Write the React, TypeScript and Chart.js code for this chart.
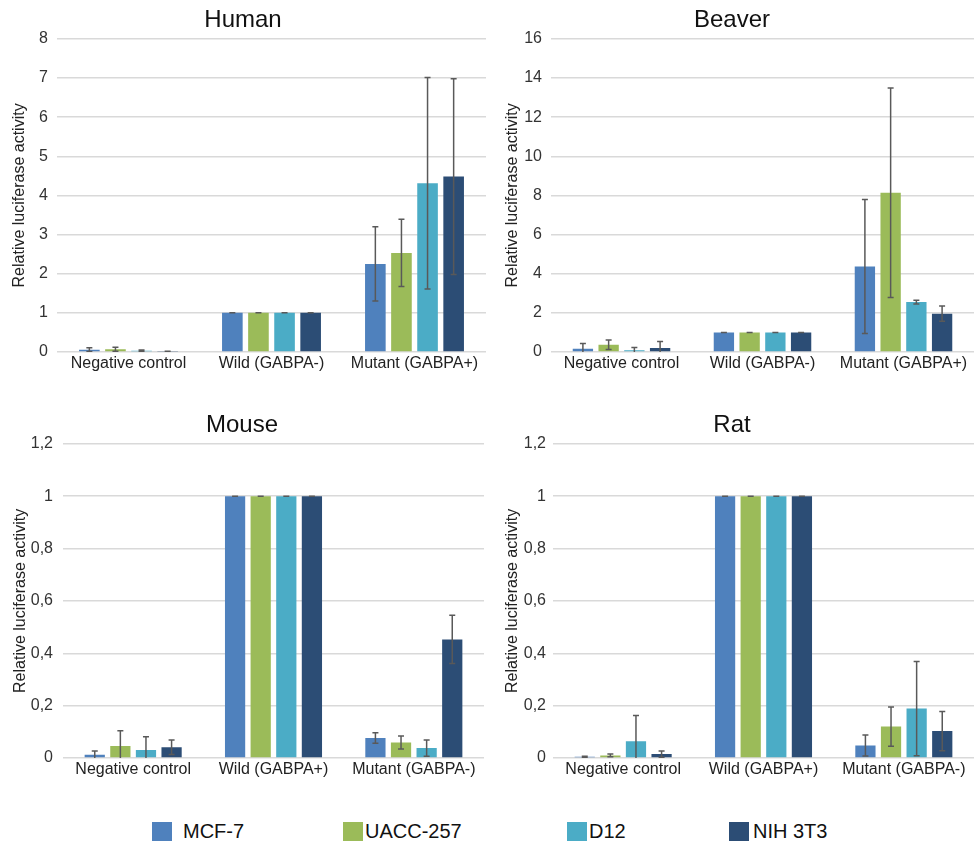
import React, { useEffect, useRef } from "react";
import { Chart, registerables } from "chart.js";
Chart.register(...registerables);

const FONT = "'Liberation Sans', Arial, Helvetica, sans-serif";

const seriesNames = ["MCF-7", "UACC-257", "D12", "NIH 3T3"];
const seriesColors = ["#4F81BD", "#9BBB59", "#4BACC6", "#2C4D75"];

const catsHumanBeaver = ["Negative control", "Wild (GABPA-)", "Mutant (GABPA+)"];
const catsMouseRat = ["Negative control", "Wild (GABPA+)", "Mutant (GABPA-)"];
const yAxisTitle = "Relative luciferase activity";

// Human
const humanMCF7 = [0.06, 1, 2.25];
const humanMCF7Err = [0.05, 0, 0.95];
const humanUACC = [0.07, 1, 2.53];
const humanUACCErr = [0.05, 0, 0.86];
const humanD12 = [0.03, 1, 4.31];
const humanD12Err = [0.02, 0, 2.7];
const humanNIH = [0.01, 1, 4.48];
const humanNIHErr = [0.01, 0, 2.5];
const humanYMax = 8;
const humanYStep = 1;

// Beaver
const beaverMCF7 = [0.17, 1, 4.37];
const beaverMCF7Err = [0.27, 0, 3.42];
const beaverUACC = [0.37, 1, 8.14];
const beaverUACCErr = [0.24, 0, 5.35];
const beaverD12 = [0.085, 1, 2.55];
const beaverD12Err = [0.15, 0, 0.1];
const beaverNIH = [0.2, 1, 1.96];
const beaverNIHErr = [0.34, 0, 0.39];
const beaverYMax = 16;
const beaverYStep = 2;

// Mouse
const mouseMCF7 = [0.012, 1, 0.076];
const mouseMCF7Err = [0.015, 0, 0.02];
const mouseUACC = [0.046, 1, 0.059];
const mouseUACCErr = [0.058, 0, 0.025];
const mouseD12 = [0.031, 1, 0.038];
const mouseD12Err = [0.05, 0, 0.031];
const mouseNIH = [0.041, 1, 0.453];
const mouseNIHErr = [0.028, 0, 0.092];
const mouseYMax = 1.2;
const mouseYStep = 0.2;

// Rat
const ratMCF7 = [0.005, 1, 0.048];
const ratMCF7Err = [0.002, 0, 0.04];
const ratUACC = [0.01, 1, 0.12];
const ratUACCErr = [0.005, 0, 0.075];
const ratD12 = [0.064, 1, 0.189];
const ratD12Err = [0.098, 0, 0.18];
const ratNIH = [0.015, 1, 0.103];
const ratNIHErr = [0.012, 0, 0.075];
const ratYMax = 1.2;
const ratYStep = 0.2;

const errorBarPlugin = {
  id: "errorBars",
  afterDatasetsDraw(chart: any) {
    const ctx = chart.ctx;
    const yScale = chart.scales.y;
    const area = chart.chartArea;
    ctx.save();
    ctx.beginPath();
    ctx.rect(area.left, area.top - 2, area.right - area.left, area.bottom - area.top + 2);
    ctx.clip();
    ctx.strokeStyle = "#595959";
    ctx.lineWidth = 1.5;
    chart.data.datasets.forEach((ds: any, di: number) => {
      const meta = chart.getDatasetMeta(di);
      meta.data.forEach((bar: any, i: number) => {
        const v = ds.data[i];
        const e = ds.errors[i];
        const x = bar.x;
        const yTop = yScale.getPixelForValue(v + e);
        const yBot = yScale.getPixelForValue(v - e);
        const cap = 3;
        ctx.beginPath();
        ctx.moveTo(x, yTop);
        ctx.lineTo(x, yBot);
        ctx.moveTo(x - cap, yTop);
        ctx.lineTo(x + cap, yTop);
        ctx.moveTo(x - cap, yBot);
        ctx.lineTo(x + cap, yBot);
        ctx.stroke();
      });
    });
    ctx.restore();
  },
};

type PanelProps = {
  left: number;
  top: number;
  width: number;
  height: number;
  title: string;
  categories: string[];
  values: number[][];
  errors: number[][];
  yMax: number;
  yStep: number;
  yAxisWidth: number;
  yTitlePad: number;
  tickPad: number;
  rightPad: number;
  comma: boolean;
};

function Panel(p: PanelProps) {
  const ref = useRef<HTMLCanvasElement | null>(null);
  useEffect(() => {
    if (!ref.current) return;
    const chart = new Chart(ref.current, {
      type: "bar",
      data: {
        labels: p.categories,
        datasets: p.values.map((vals, si) => ({
          label: seriesNames[si],
          data: vals,
          errors: p.errors[si],
          backgroundColor: seriesColors[si],
          borderWidth: 0,
          categoryPercentage: 0.73,
          barPercentage: 0.79,
        })) as any,
      },
      options: {
        responsive: false,
        maintainAspectRatio: false,
        animation: false,
        devicePixelRatio: 1,
        layout: { padding: { left: 0, right: p.rightPad, top: 0, bottom: 0 } },
        plugins: {
          legend: { display: false },
          tooltip: { enabled: false },
          title: {
            display: true,
            text: p.title,
            color: "#111",
            font: { family: FONT, size: 24, weight: "normal" },
            padding: { top: 6, bottom: 4 },
          },
        },
        scales: {
          x: {
            grid: { display: false, drawTicks: false },
            border: { display: false },
            ticks: {
              color: "#222",
              font: { family: FONT, size: 16 },
              padding: 2,
              maxRotation: 0,
              autoSkip: false,
            },
            afterFit: (s: any) => {
              s.height = 28;
            },
          },
          y: {
            min: 0,
            max: p.yMax,
            grid: { color: "#d9d9d9", lineWidth: 1.5, drawTicks: false },
            border: { display: false },
            ticks: {
              stepSize: p.yStep,
              padding: p.tickPad,
              color: "#333",
              font: { family: FONT, size: 16 },
              callback: (v: any) => {
                const r = Math.round(Number(v) * 10) / 10;
                const s = String(r);
                return p.comma ? s.replace(".", ",") : s;
              },
            },
            title: {
              display: true,
              text: yAxisTitle,
              color: "#222",
              font: { family: FONT, size: 16 },
              padding: { top: p.yTitlePad, bottom: 0 },
            },
            afterFit: (s: any) => {
              s.width = p.yAxisWidth;
            },
          },
        },
      } as any,
      plugins: [errorBarPlugin],
    });
    return () => chart.destroy();
  }, []);
  return (
    <canvas
      ref={ref}
      width={p.width}
      height={p.height}
      style={{ position: "absolute", left: p.left, top: p.top, width: p.width, height: p.height }}
    />
  );
}

const legendItems = [
  { box: 152, text: 183 },
  { box: 343, text: 365 },
  { box: 567, text: 589 },
  { box: 729, text: 753 },
];

export default function App() {
  return (
    <div
      style={{
        position: "absolute",
        left: 0,
        top: 0,
        width: 980,
        height: 841,
        background: "#fff",
        overflow: "hidden",
        fontFamily: FONT,
      }}
    >
      <Panel
        left={0}
        top={0}
        width={490}
        height={380}
        title="Human"
        categories={catsHumanBeaver}
        values={[humanMCF7, humanUACC, humanD12, humanNIH]}
        errors={[humanMCF7Err, humanUACCErr, humanD12Err, humanNIHErr]}
        yMax={humanYMax}
        yStep={humanYStep}
        yAxisWidth={57}
        yTitlePad={10}
        tickPad={9}
        rightPad={4}
        comma={false}
      />
      <Panel
        left={490}
        top={0}
        width={490}
        height={380}
        title="Beaver"
        categories={catsHumanBeaver}
        values={[beaverMCF7, beaverUACC, beaverD12, beaverNIH]}
        errors={[beaverMCF7Err, beaverUACCErr, beaverD12Err, beaverNIHErr]}
        yMax={beaverYMax}
        yStep={beaverYStep}
        yAxisWidth={61}
        yTitlePad={13}
        tickPad={9}
        rightPad={6}
        comma={false}
      />
      <Panel
        left={0}
        top={405}
        width={490}
        height={381}
        title="Mouse"
        categories={catsMouseRat}
        values={[mouseMCF7, mouseUACC, mouseD12, mouseNIH]}
        errors={[mouseMCF7Err, mouseUACCErr, mouseD12Err, mouseNIHErr]}
        yMax={mouseYMax}
        yStep={mouseYStep}
        yAxisWidth={63}
        yTitlePad={11}
        tickPad={10}
        rightPad={6}
        comma={true}
      />
      <Panel
        left={490}
        top={405}
        width={490}
        height={381}
        title="Rat"
        categories={catsMouseRat}
        values={[ratMCF7, ratUACC, ratD12, ratNIH]}
        errors={[ratMCF7Err, ratUACCErr, ratD12Err, ratNIHErr]}
        yMax={ratYMax}
        yStep={ratYStep}
        yAxisWidth={63}
        yTitlePad={13}
        tickPad={7}
        rightPad={6}
        comma={true}
      />
      {seriesNames.map((name, i) => (
        <React.Fragment key={name}>
          <div
            style={{
              position: "absolute",
              left: legendItems[i].box,
              top: 822,
              width: 20,
              height: 20,
              background: seriesColors[i],
            }}
          />
          <div
            style={{
              position: "absolute",
              left: legendItems[i].text,
              top: 821,
              fontSize: 20,
              lineHeight: "20px",
              color: "#111",
              whiteSpace: "nowrap",
            }}
          >
            {name}
          </div>
        </React.Fragment>
      ))}
    </div>
  );
}
